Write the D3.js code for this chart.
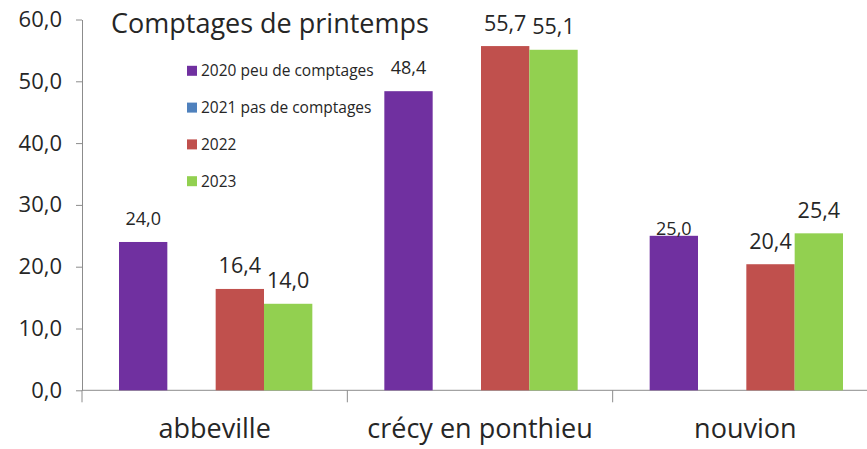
<!DOCTYPE html>
<html lang="fr">
<head>
    <meta charset="UTF-8">
    <title>Comptages de printemps</title>
    <script src="https://cdnjs.cloudflare.com/ajax/libs/d3/7.8.5/d3.min.js"></script>
    <style>
        body { margin: 0; background: #ffffff; }
        text { font-family: "Open Sans", Lato, sans-serif; fill: #262626; }
    </style>
</head>
<body>
    <script>
        // Data
        var categories = ["abbeville", "crécy en ponthieu", "nouvion"];
        var seriesNames = ["2020 peu de comptages", "2021 pas de comptages", "2022", "2023"];
        var values2020 = [24.0, 48.4, 25.0];
        var values2021 = [0, 0, 0];
        var values2022 = [16.4, 55.7, 20.4];
        var values2023 = [14.0, 55.1, 25.4];
        var yTicks = [0, 10, 20, 30, 40, 50, 60];
        var title = "Comptages de printemps";

        var seriesValues = [values2020, values2021, values2022, values2023];
        var colors = ["#7030A0", "#4F81BD", "#C0504D", "#92D050"];
        // 2020 labels are drawn smaller in the original
        var labelSizes = [18, 18, 21.5, 21.5];

        var width = 867, height = 449;
        var svg = d3.select("body")
            .append("svg")
            .attr("width", width)
            .attr("height", height);

        var y = d3.scaleLinear().domain([0, 60]).range([390.3, 19.5]);
        var x0 = d3.scaleBand().domain(categories).range([82, 878]).padding(0);
        var x1 = d3.scaleBand().domain(seriesNames).range([37, x0.bandwidth() - 35]).padding(0);

        // y axis
        var yAxis = svg.append("g")
            .attr("transform", "translate(82,0)")
            .call(d3.axisLeft(y)
                .tickValues(yTicks)
                .tickSize(6)
                .tickSizeOuter(0)
                .tickPadding(14)
                .tickFormat(function(d){ return d.toFixed(1).replace(".", ","); }));
        yAxis.selectAll("path, line").attr("stroke", "#8c8c8c");
        yAxis.selectAll("text")
            .style("font-size", "22px")
            .attr("fill", "#262626");

        // x axis line and category separators
        var xAxis = svg.append("g");
        xAxis.append("line")
            .attr("x1", x0.range()[0]).attr("x2", x0.range()[1])
            .attr("y1", y(0)).attr("y2", y(0))
            .attr("stroke", "#8c8c8c");
        var bounds = categories.map(function(c){ return x0(c); }).concat([x0.range()[1]]);
        xAxis.selectAll(".sep")
            .data(bounds)
            .enter()
            .append("line")
            .attr("x1", function(d){ return d; })
            .attr("x2", function(d){ return d; })
            .attr("y1", y(0))
            .attr("y2", y(0) + 12)
            .attr("stroke", "#8c8c8c");
        xAxis.selectAll(".cat")
            .data(categories)
            .enter()
            .append("text")
            .attr("x", function(d){ return x0(d) + x0.bandwidth() / 2; })
            .attr("y", 438)
            .attr("text-anchor", "middle")
            .style("font-size", "27px")
            .text(function(d){ return d; });

        // bars
        var points = [];
        seriesValues.forEach(function(vals, s){
            vals.forEach(function(v, i){
                points.push({ series: s, cat: categories[i], value: v });
            });
        });

        svg.selectAll("rect.bar")
            .data(points.filter(function(p){ return p.value > 0; }))
            .enter()
            .append("rect")
            .attr("class", "bar")
            .attr("x", function(d){ return x0(d.cat) + x1(seriesNames[d.series]); })
            .attr("width", x1.bandwidth())
            .attr("y", function(d){ return y(d.value); })
            .attr("height", function(d){ return y(0) - y(d.value); })
            .attr("fill", function(d){ return colors[d.series]; });

        // value labels
        svg.selectAll("text.val")
            .data(points.filter(function(p){ return p.value > 0; }))
            .enter()
            .append("text")
            .attr("class", "val")
            .attr("x", function(d){ return x0(d.cat) + x1(seriesNames[d.series]) + x1.bandwidth() / 2; })
            .attr("y", function(d){
                // the nouvion 2020 label sits lower, on the bar top
                var off = (d.series === 0 && d.cat === "nouvion") ? 7 : 23;
                return y(d.value) - off;
            })
            .attr("dy", "0.35em")
            .attr("text-anchor", "middle")
            .style("font-size", function(d){ return labelSizes[d.series] + "px"; })
            .text(function(d){ return d.value.toFixed(1).replace(".", ","); });

        // title
        svg.append("text")
            .attr("x", 111)
            .attr("y", 33)
            .style("font-size", "27px")
            .text(title);

        // legend
        var legend = svg.selectAll(".legend")
            .data(seriesNames)
            .enter()
            .append("g")
            .attr("transform", function(d, i){ return "translate(187," + (70.8 + i * 36.8) + ")"; });
        legend.append("rect")
            .attr("x", 0).attr("y", -5)
            .attr("width", 10).attr("height", 10)
            .attr("fill", function(d, i){ return colors[i]; });
        legend.append("text")
            .attr("x", 14)
            .attr("dy", "0.35em")
            .style("font-size", "15.5px")
            .text(function(d){ return d; });
    </script>
</body>
</html>
